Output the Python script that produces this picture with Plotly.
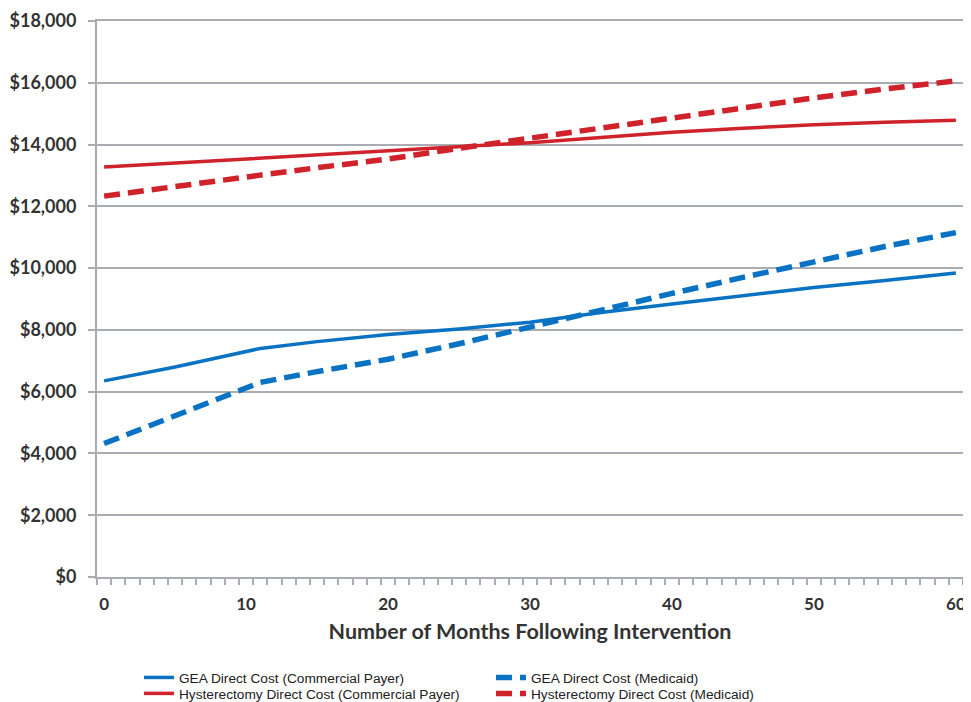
import plotly.graph_objects as go

months = [0, 5, 11, 15, 20, 25, 30, 35, 40, 45, 50, 55, 60]
gea_commercial = [6350, 6800, 7400, 7620, 7850, 8030, 8250, 8560, 8840, 9110, 9370, 9600, 9840]
gea_medicaid = [4320, 5220, 6300, 6650, 7050, 7550, 8100, 8670, 9180, 9700, 10220, 10700, 11150]
hyst_commercial = [13270, 13400, 13560, 13660, 13780, 13920, 14060, 14230, 14400, 14530, 14640, 14720, 14790]
hyst_medicaid = [12330, 12620, 13010, 13250, 13530, 13880, 14210, 14530, 14850, 15200, 15510, 15800, 16060]

series_names = [
    "GEA Direct Cost (Commercial Payer)",
    "GEA Direct Cost (Medicaid)",
    "Hysterectomy Direct Cost (Commercial Payer)",
    "Hysterectomy Direct Cost (Medicaid)",
]
y_ticks = [0, 2000, 4000, 6000, 8000, 10000, 12000, 14000, 16000, 18000]
y_tick_labels = ["$0", "$2,000", "$4,000", "$6,000", "$8,000", "$10,000",
                 "$12,000", "$14,000", "$16,000", "$18,000"]
x_ticks = [0, 10, 20, 30, 40, 50, 60]

BLUE = "#0a72c2"
RED = "#d0222b"
GRID = "#a9adb3"
BOLD_FONT = "Lato, Liberation Sans, sans-serif"

fig = go.Figure()
specs = [
    (gea_commercial, BLUE, "solid", 3.5, "legend"),
    (gea_medicaid, BLUE, "16px,8px", 5.5, "legend"),
    (hyst_commercial, RED, "solid", 3.5, "legend2"),
    (hyst_medicaid, RED, "16px,8px", 5.5, "legend2"),
]
for name, (vals, color, dash, w, leg) in zip(series_names, specs):
    fig.add_trace(go.Scatter(
        x=months, y=vals, mode="lines", name=name, legend=leg,
        line=dict(color=color, dash=dash, width=w),
    ))

legend_common = dict(
    orientation="h", xref="container", yref="container",
    x=0.136, xanchor="left", yanchor="top",
    entrywidth=307, entrywidthmode="pixels",
    font=dict(family="Liberation Sans, sans-serif", size=13.7, color="#222222"),
    tracegroupgap=0, bgcolor="rgba(0,0,0,0)",
)

fig.update_layout(
    width=963, height=694,
    margin=dict(l=89, r=8, t=13, b=125, autoexpand=False),
    paper_bgcolor="white", plot_bgcolor="white",
    font=dict(family=BOLD_FONT, color="#333333"),
    showlegend=True,
    legend=dict(legend_common, y=0.0576),
    legend2=dict(legend_common, y=0.0346),
)
fig.update_xaxes(
    range=[-0.5, 60.5], automargin=False,
    tickmode="array", tickvals=x_ticks, ticktext=[str(v) for v in x_ticks],
    ticks="", showgrid=False, zeroline=False, ticklabelstandoff=11,
    showline=True, linecolor=GRID, linewidth=2, mirror=True,
    tickfont=dict(size=17, family=BOLD_FONT, weight="bold", color="#333333"),
    minor=dict(tickmode="linear", tick0=-0.5, dtick=1, ticks="outside", ticklen=6,
               tickcolor=GRID, tickwidth=1.5, showgrid=False),
    title=dict(text="Number of Months Following Intervention",
               font=dict(size=21.5, family=BOLD_FONT, weight="bold", color="#333333"),
               standoff=11),
)
fig.update_yaxes(
    range=[0, 18000], automargin=False,
    tickmode="array", tickvals=y_ticks, ticktext=y_tick_labels,
    ticks="outside", ticklen=7, tickcolor=GRID, tickwidth=1.5, ticklabelstandoff=8,
    showgrid=True, gridcolor=GRID, gridwidth=1.5,
    zeroline=False, showline=True, linecolor=GRID, linewidth=2, mirror=True,
    tickfont=dict(size=18, family=BOLD_FONT, weight="bold", color="#333333"),
)

fig.write_html("out.html")
